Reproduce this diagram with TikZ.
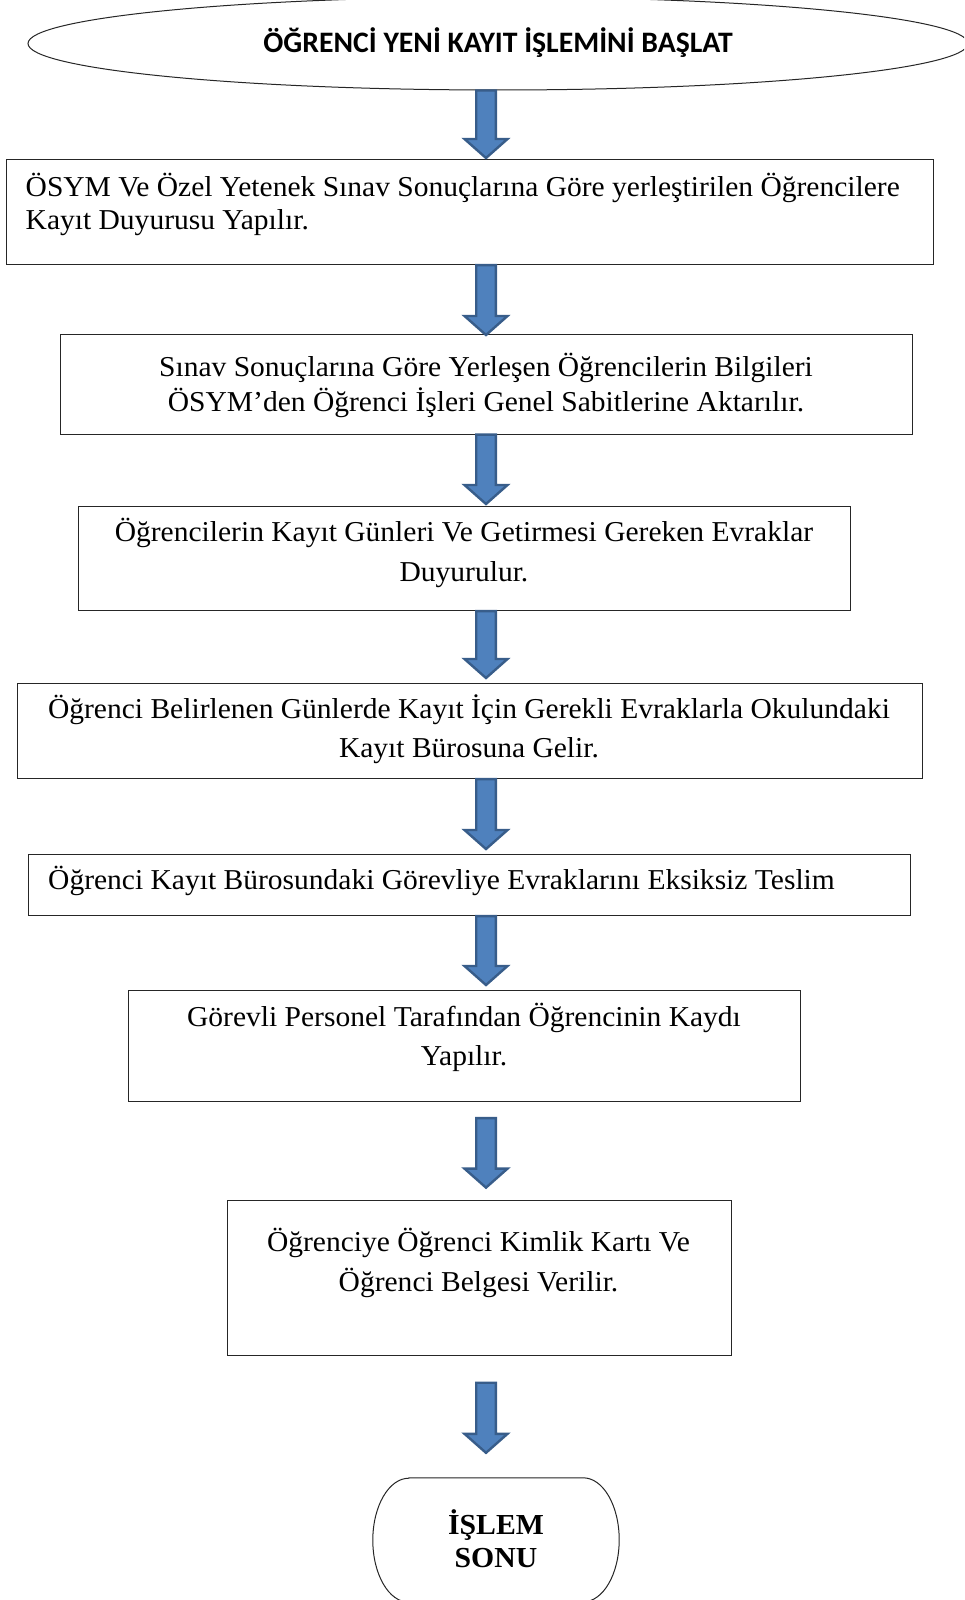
\documentclass[tikz,border=0pt]{standalone}
\usepackage{fontspec}
\setmainfont[FakeStretch=1.025]{Liberation Serif}
\newfontfamily\calibrifont{Carlito}
\usetikzlibrary{shapes.geometric,calc}
\definecolor{arrowfill}{HTML}{4F81BD}
\definecolor{arrowline}{HTML}{385D8A}
\tikzset{
  box/.style={draw=black!85, line width=1.1pt, rectangle, inner sep=0pt, anchor=north west},
  txt/.style={inner sep=0pt, align=center, font=\fontsize{28.8}{33}\selectfont},
  blockarrow/.style={draw=arrowline, fill=arrowfill, line width=2.4pt, line join=miter},
}
\newcommand\blockarrow[2]{%
  \path[blockarrow] let \p1=#1, \p2=#2 in
    (\x1-9.8pt,\y1) -- (\x1+9.8pt,\y1) -- (\x1+9.8pt,\y2+21pt) -- (\x1+21.5pt,\y2+21pt)
    -- (\x1,\y2+2pt) -- (\x1-21.5pt,\y2+21pt) -- (\x1-9.8pt,\y2+21pt) -- cycle;}
\begin{document}
\begin{tikzpicture}[x=1pt,y=-1pt]
\useasboundingbox (0,0) rectangle (964,1600);
\clip (0,0) rectangle (964,1600);
\fill[white] (0,0) rectangle (964,1600);
\coordinate (ax) at (486,0);

% start ellipse
\node[draw=black!85, line width=1pt, ellipse, minimum width=940pt, minimum height=93pt, inner sep=0pt] (e) at (498,43.5) {};
\node[inner sep=0pt, anchor=base, font=\calibrifont\bfseries\fontsize{29.7}{33}\selectfont] (et) at (498,52.5) {ÖĞRENCİ YENİ KAYIT İŞLEMİNİ BAŞLAT};

% boxes
\node[box, minimum width=926.5pt, minimum height=105pt] (b1) at (6,159) {};
\node[txt, anchor=base west, align=left] (t1) at (25.5,229) {ÖSYM Ve Özel Yetenek Sınav Sonuçlarına Göre yerleştirilen Öğrencilere\\Kayıt Duyurusu Yapılır.};

\node[box, minimum width=852pt, minimum height=100pt] (b2) at (60,333.5) {};
\node[txt, anchor=base, font=\fontsize{28.8}{35}\selectfont] (t2) at (486,411) {Sınav Sonuçlarına Göre Yerleşen Öğrencilerin Bilgileri\\ÖSYM’den Öğrenci İşleri Genel Sabitlerine Aktarılır.};

\node[box, minimum width=772.5pt, minimum height=104pt] (b3) at (77.5,506) {};
\node[txt, anchor=base, font=\fontsize{28.8}{39.5}\selectfont] (t3) at (464,581) {Öğrencilerin Kayıt Günleri Ve Getirmesi Gereken Evraklar\\Duyurulur.};

\node[box, minimum width=905pt, minimum height=95.5pt] (b4) at (17,682.5) {};
\node[txt, anchor=base, font=\fontsize{28.8}{39}\selectfont] (t4) at (469,757) {Öğrenci Belirlenen Günlerde Kayıt İçin Gerekli Evraklarla Okulundaki\\Kayıt Bürosuna Gelir.};

\node[box, minimum width=882.5pt, minimum height=61pt] (b5) at (27.5,854) {};
\node[txt, anchor=base west] (t5) at (48,889.5) {Öğrenci Kayıt Bürosundaki Görevliye Evraklarını Eksiksiz Teslim};

\node[box, minimum width=672.5pt, minimum height=111pt] (b6) at (127.5,990) {};
\node[txt, anchor=base, font=\fontsize{28.8}{39}\selectfont] (t6) at (464,1065) {Görevli Personel Tarafından Öğrencinin Kaydı\\Yapılır.};

\node[box, minimum width=504pt, minimum height=155pt] (b7) at (226.5,1199.6) {};
\node[txt, anchor=base, font=\fontsize{28.8}{39.5}\selectfont] (t7) at (478.5,1291) {Öğrenciye Öğrenci Kimlik Kartı Ve\\Öğrenci Belgesi Verilir.};

% end terminal
\node[inner sep=0pt, minimum width=246pt, minimum height=124pt] (term) at (496,1540) {};
\draw[black!85, line width=1pt]
  ($(term.north west)+(36,0)$) -- ($(term.north east)+(-36,0)$)
  arc[start angle=90, end angle=-90, x radius=36pt, y radius=62pt]
  -- ($(term.south west)+(36,0)$)
  arc[start angle=270, end angle=90, x radius=36pt, y radius=62pt] -- cycle;
\node[txt, anchor=base, font=\bfseries\fontsize{29}{33.5}\selectfont] (tt) at (496,1567.5) {İŞLEM\\SONU};

% arrows
\blockarrow{(e.south -| ax)}{($(b1.north -| ax)+(0,1)$)}
\blockarrow{(b1.south -| ax)}{($(b2.north -| ax)+(0,3.5)$)}
\blockarrow{(b2.south -| ax)}{(b3.north -| ax)}
\blockarrow{(b3.south -| ax)}{($(b4.north -| ax)+(0,-2.5)$)}
\blockarrow{(b4.south -| ax)}{($(b5.north -| ax)+(0,-3)$)}
\blockarrow{(b5.south -| ax)}{($(b6.north -| ax)+(0,-3)$)}
\blockarrow{($(b6.south -| ax)+(0,16)$)}{($(b7.north -| ax)+(0,-10)$)}
\blockarrow{($(b7.south -| ax)+(0,27)$)}{($(term.north -| ax)+(0,-23)$)}
\end{tikzpicture}
\end{document}
